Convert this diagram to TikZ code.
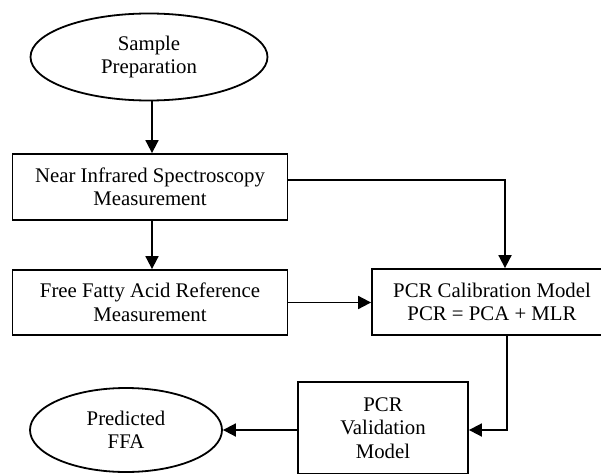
\documentclass[tikz,border=0pt]{standalone}
\usepackage{fontspec}
\setmainfont{Liberation Serif}
\usepackage{tikz}
\usetikzlibrary{arrows.meta, positioning, shapes.geometric, calc}

\begin{document}
\begin{tikzpicture}[
    x=1pt, y=-1pt,
    terminal/.style={ellipse, draw=black, line width=1.8pt, inner sep=0pt,
                  align=center, font=\fontsize{20.8}{23.5}\selectfont},
    stepbox/.style={rectangle, draw=black, line width=1.8pt, inner sep=0pt,
                  align=center, font=\fontsize{20.8}{23.5}\selectfont},
    flow/.style={-{Triangle[length=13pt, width=13pt]}, line width=1.8pt, color=black}
  ]
    \useasboundingbox (0,0) rectangle (601,473);
    \clip (0,0) rectangle (601,473);

    % Nodes
    \node[terminal, minimum width=237pt, minimum height=87pt] (prep) at (149,57) {Sample\\Preparation};
    \node[stepbox, minimum width=275pt, minimum height=66pt] (nir) at (150,187) {Near Infrared Spectroscopy\\Measurement};
    \node[stepbox, minimum width=275pt, minimum height=65pt] (ffa) at (150,302.5) {Free Fatty Acid Reference\\Measurement};
    \node[stepbox, minimum width=240pt, minimum height=66pt] (pcr) at (492,302) {PCR Calibration Model\\PCR = PCA + MLR};
    \node[stepbox, minimum width=170pt, minimum height=92pt] (val) at (383,428) {PCR\\Validation\\Model};
    \node[terminal, minimum width=192pt, minimum height=84pt] (pred) at (126,430) {Predicted\\FFA};

    % Connectors
    \coordinate (corner) at (505,180);
    \coordinate (bend) at (507,430);
    \draw[flow] (prep.south -| 152,0) -- (nir.north -| 152,0);
    \draw[flow] (nir.south -| 152,0) -- (ffa.north -| 152,0);
    \draw[flow] (nir.east |- corner) -- (corner) -- (pcr.north -| corner);
    \draw[flow] (ffa.east) -- (pcr.west |- ffa.east);
    \draw[flow] (pcr.south -| bend) -- (bend) -- (val.east |- bend);
    \draw[flow] (val.west |- pred.east) -- (pred.east);
\end{tikzpicture}
\end{document}
